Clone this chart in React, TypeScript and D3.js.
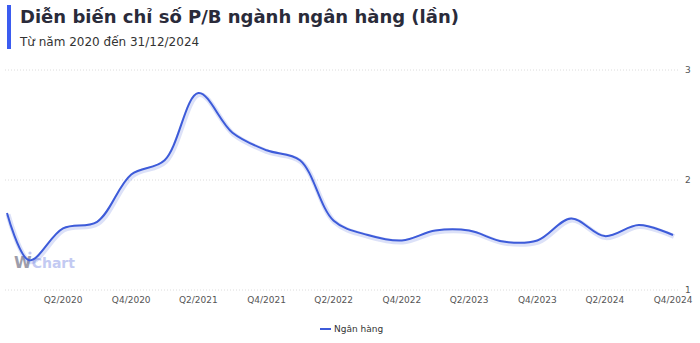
import React from "react";
import * as d3 from "d3";

const dates = [
  "2020-01-31", "2020-03-31", "2020-06-30", "2020-09-30", "2020-12-31",
  "2021-03-31", "2021-06-30", "2021-09-30", "2021-12-31",
  "2022-03-31", "2022-06-30", "2022-09-30", "2022-12-31",
  "2023-03-31", "2023-06-30", "2023-09-30", "2023-12-31",
  "2024-03-31", "2024-06-30", "2024-09-30", "2024-12-31",
];
const values = [
  1.70, 1.27, 1.56, 1.62, 2.05,
  2.18, 2.79, 2.43, 2.27,
  2.18, 1.63, 1.50, 1.45,
  1.54, 1.54, 1.44, 1.45,
  1.65, 1.49, 1.59, 1.50,
];
const tickDates = [
  "2020-06-30", "2020-12-31", "2021-06-30", "2021-12-31", "2022-06-30",
  "2022-12-31", "2023-06-30", "2023-12-31", "2024-06-30", "2024-12-31",
];
const tickLabels = [
  "Q2/2020", "Q4/2020", "Q2/2021", "Q4/2021", "Q2/2022",
  "Q4/2022", "Q2/2023", "Q4/2023", "Q2/2024", "Q4/2024",
];
const yTicks = [1, 2, 3];
const seriesName = "Ngân hàng";
const title = "Diễn biến chỉ số P/B ngành ngân hàng (lần)";
const subtitle = "Từ năm 2020 đến 31/12/2024";

const W = 700;
const H = 343;
const FONT = "'DejaVu Sans', sans-serif";
const LINE = "#3d5bd9";

export default function App() {
  const parse = d3.timeParse("%Y-%m-%d");
  const pts = dates.map((d, i) => ({ date: parse(d) as Date, v: values[i] }));
  const x = d3
    .scaleTime()
    .domain([parse(tickDates[0]) as Date, parse(tickDates[tickDates.length - 1]) as Date])
    .range([63, 673]);
  const y = d3.scaleLinear().domain([1, 3]).range([290, 70]);
  const line = d3
    .line<{ date: Date; v: number }>()
    .x((d) => x(d.date))
    .y((d) => y(d.v))
    .curve(d3.curveCatmullRom.alpha(0.5));
  const path = line(pts) || "";

  return (
    <svg
      width={W}
      height={H}
      style={{ position: "absolute", left: 0, top: 0, background: "#fff" }}
      fontFamily={FONT}
    >
      <rect x={7} y={5} width={4} height={44} fill="#3b5cf0" />
      <text x={20} y={22.5} fontSize={18} fontWeight="bold" fill="#2a2b3a">
        {title}
      </text>
      <text x={20} y={46} fontSize={12} fill="#333">
        {subtitle}
      </text>

      {yTicks.map((t) => (
        <g key={t}>
          <line
            x1={5}
            x2={680}
            y1={y(t)}
            y2={y(t)}
            stroke="#dcdcdc"
            strokeWidth={1}
            strokeDasharray="1,2"
          />
          <text x={685} y={y(t)} dy="0.35em" fontSize={9} fill="#555">
            {t}
          </text>
        </g>
      ))}

      {tickDates.map((d, i) => (
        <text
          key={d}
          x={x(parse(d) as Date)}
          y={303}
          textAnchor="middle"
          fontSize={9}
          fill="#555"
        >
          {tickLabels[i]}
        </text>
      ))}

      <text x={14} y={268} fontSize={14} fontWeight="bold">
        <tspan fill="#9d9dab" fontSize={16}>W</tspan>
        <tspan fill="#c3caf2">Chart</tspan>
      </text>
      <circle cx={30} cy={253} r={1.6} fill="#c3caf2" />

      <path
        d={path}
        fill="none"
        stroke="rgba(61,91,217,0.18)"
        strokeWidth={5}
        transform="translate(1,1.5)"
      />
      <path d={path} fill="none" stroke={LINE} strokeWidth={2} />

      <line x1={320} x2={331} y1={329} y2={329} stroke={LINE} strokeWidth={2} />
      <text x={334} y={332} fontSize={9} fill="#333">
        {seriesName}
      </text>
    </svg>
  );
}
